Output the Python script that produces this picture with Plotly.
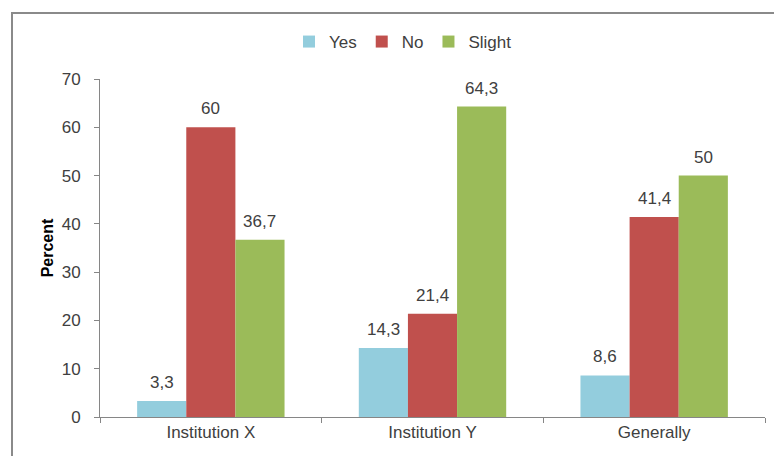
import plotly.graph_objects as go

categories = ["Institution X", "Institution Y", "Generally"]
series_names = ["Yes", "No", "Slight"]
yes_values = [3.3, 14.3, 8.6]
no_values = [60, 21.4, 41.4]
slight_values = [36.7, 64.3, 50]
colors = ["#93CDDD", "#C0504D", "#9BBB59"]
y_ticks = [0, 10, 20, 30, 40, 50, 60, 70]

FONT = "Liberation Sans, Arial, sans-serif"
TEXT_COLOR = "#404040"
AXIS_COLOR = "#868686"
BARGAP = 0.335
FS = 17

W, H = 774, 456
ML, MR, MT, MB = 100, 9, 79, 39
plot_w = W - ML - MR
plot_h = H - MT - MB


def label(v):
    s = f"{v:g}"
    return s.replace(".", ",")


fig = go.Figure()
all_values = [yes_values, no_values, slight_values]
for name, vals, col in zip(series_names, all_values, colors):
    fig.add_trace(go.Bar(
        name=name, x=categories, y=vals,
        marker=dict(color=col, line=dict(width=0)),
    ))

# value labels above each bar
bar_w = (1 - BARGAP) / len(series_names)
annotations = []
for j, vals in enumerate(all_values):
    for i, v in enumerate(vals):
        annotations.append(dict(
            x=i + (j - 1) * bar_w, y=v, xref="x", yref="y",
            text=label(v), showarrow=False, yanchor="bottom",
            yshift=7, font=dict(family=FONT, size=FS, color=TEXT_COLOR),
        ))

# outer frame (left and top edges)
fx = (12 - ML) / plot_w
fy = (H - MB - 13) / plot_h
shapes = [dict(
    type="path", xref="paper", yref="paper",
    path=f"M {fx},-0.2 L {fx},{fy} L 1.1,{fy}",
    line=dict(color="#8a8a8a", width=2),
)]

fig.update_layout(
    width=W, height=H,
    margin=dict(l=ML, r=MR, t=MT, b=MB),
    paper_bgcolor="white", plot_bgcolor="white",
    barmode="group", bargap=BARGAP, bargroupgap=0,
    font=dict(family=FONT, size=FS, color=TEXT_COLOR),
    showlegend=True,
    legend=dict(
        orientation="h", x=(403 - ML) / plot_w, xanchor="center",
        y=(H - MB - 42) / plot_h, yanchor="middle",
        itemwidth=30, font=dict(family=FONT, size=FS, color=TEXT_COLOR),
        bgcolor="rgba(0,0,0,0)", tracegroupgap=0,
    ),
    annotations=annotations,
    shapes=shapes,
)
fig.update_xaxes(
    type="category", showline=True, linecolor=AXIS_COLOR, linewidth=1,
    ticks="outside", tickson="boundaries", ticklen=5, tickcolor=AXIS_COLOR,
    showgrid=False, zeroline=False,
    tickfont=dict(family=FONT, size=FS, color=TEXT_COLOR),
)
fig.update_yaxes(
    range=[0, 70], tickvals=y_ticks, showline=True, linecolor=AXIS_COLOR,
    linewidth=1, ticks="outside", ticklen=5, tickcolor=AXIS_COLOR,
    showgrid=False, zeroline=False, ticklabelstandoff=10,
    tickfont=dict(family=FONT, size=FS, color=TEXT_COLOR),
    title=dict(text="<b>Percent</b>", standoff=4,
               font=dict(family=FONT, size=16, color="#000000")),
)

fig.write_html("out.html")
